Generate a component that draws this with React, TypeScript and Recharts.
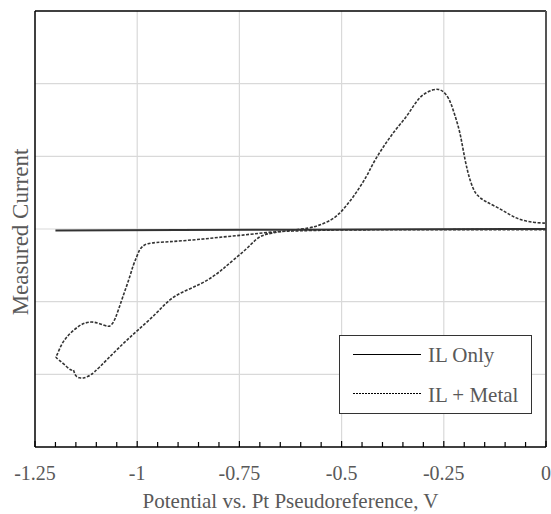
import React from "react";
import {
  LineChart,
  Line,
  XAxis,
  YAxis,
  ReferenceLine,
  Legend,
} from "recharts";

// ---- Data ----
const ilOnlyPotential = [-1.2, -0.9, -0.6, -0.3, 0];
const ilOnlyCurrent = [-0.02, -0.015, -0.009, -0.004, 0];

const metalPotential = [
  0, -0.1, -0.2, -0.3, -0.4, -0.5, -0.577, -0.62, -0.667, -0.716, -0.757, -0.8,
  -0.838, -0.88, -0.92, -0.955, -0.975, -0.986, -0.995, -1.001, -1.01, -1.018,
  -1.028, -1.038, -1.054, -1.064, -1.071, -1.083, -1.098, -1.111, -1.127, -1.14,
  -1.164, -1.185, -1.197, -1.201, -1.181, -1.16, -1.156, -1.152, -1.14, -1.132,
  -1.12, -1.107, -1.075, -1.034, -1.001, -0.952, -0.92, -0.879, -0.845, -0.814,
  -0.79, -0.765, -0.732, -0.708, -0.69, -0.675, -0.634, -0.577, -0.553, -0.525,
  -0.504, -0.488, -0.471, -0.455, -0.439, -0.427, -0.414, -0.398, -0.382,
  -0.362, -0.341, -0.325, -0.308, -0.292, -0.276, -0.262, -0.251, -0.237,
  -0.227, -0.218, -0.21, -0.204, -0.198, -0.192, -0.186, -0.178, -0.17, -0.15,
  -0.121, -0.09, -0.064, -0.03, 0,
];
const metalCurrent = [
  -0.008, -0.008, -0.009, -0.01, -0.011, -0.012, -0.02, -0.028, -0.037, -0.069,
  -0.092, -0.115, -0.138, -0.158, -0.175, -0.185, -0.2, -0.23, -0.29, -0.381,
  -0.5, -0.656, -0.82, -0.977, -1.252, -1.33, -1.344, -1.321, -1.29, -1.276,
  -1.29, -1.321, -1.431, -1.569, -1.757, -1.761, -1.848, -1.964, -1.913,
  -2.032, -2.05, -2.054, -2.03, -1.986, -1.803, -1.573, -1.404, -1.16, -0.954,
  -0.839, -0.76, -0.656, -0.55, -0.426, -0.275, -0.128, -0.08, -0.059, -0.023,
  0.01, 0.055, 0.12, 0.216, 0.325, 0.444, 0.58, 0.72, 0.86, 0.99, 1.13, 1.26,
  1.41, 1.545, 1.69, 1.821, 1.88, 1.922, 1.925, 1.895, 1.8, 1.638, 1.48,
  1.317, 1.13, 0.95, 0.8, 0.674, 0.55, 0.468, 0.38, 0.307, 0.2, 0.124, 0.088,
  0.08,
];

const majorTicks = [-1.25, -1, -0.75, -0.5, -0.25, 0];
const majorTickLabels = ["-1.25", "-1", "-0.75", "-0.5", "-0.25", "0"];
const minorTicks = [
  -1.25, -1.2, -1.15, -1.1, -1.05, -1, -0.95, -0.9, -0.85, -0.8, -0.75, -0.7,
  -0.65, -0.6, -0.55, -0.5, -0.45, -0.4, -0.35, -0.3, -0.25, -0.2, -0.15, -0.1,
  -0.05, 0,
];
const yTicks = [-3, -2, -1, 0, 1, 2, 3];
const innerGridX = [-1, -0.75, -0.5, -0.25];
const innerGridY = [-2, -1, 0, 1, 2];

const seriesNames = ["IL Only", "IL + Metal"];

const ilOnlyData = ilOnlyPotential.map((x, i) => ({ x, y: ilOnlyCurrent[i] }));
const metalData = metalPotential.map((x, i) => ({ x, y: metalCurrent[i] }));

const FONT = "Liberation Serif, Times New Roman, DejaVu Serif, serif";
const TEXT = "#595959";
const LINE = "#333333";

const XTick = (props: any) => {
  const { x, y, payload } = props;
  const v = payload.value;
  const idx = majorTicks.findIndex((m) => Math.abs(m - v) < 1e-6);
  const major = idx >= 0;
  return (
    <g>
      <line x1={x} x2={x} y1={y} y2={y - (major ? 6 : 5)} stroke="#000" strokeWidth={1.2} />
      {major && (
        <text
          x={x}
          y={y + 33}
          textAnchor="middle"
          style={{ fontFamily: FONT, fontSize: 20, fill: TEXT }}
        >
          {majorTickLabels[idx]}
        </text>
      )}
    </g>
  );
};

const LegendBox = () => (
  <div
    style={{
      position: "relative",
      width: 193,
      height: 79,
      boxSizing: "border-box",
      border: "1.5px solid #333",
      background: "#fff",
    }}
  >
    <svg
      width={193}
      height={79}
      style={{ position: "absolute", left: -1.5, top: -1.5 }}
    >
      <line x1={14} x2={82} y1={19.5} y2={19.5} stroke="#000" strokeWidth={1.2} />
      <line
        x1={14}
        x2={82}
        y1={58.5}
        y2={58.5}
        stroke="#000"
        strokeWidth={1}
        strokeDasharray="2 1"
      />
      <text x={89} y={27} style={{ fontFamily: FONT, fontSize: 21, fill: TEXT }}>
        {seriesNames[0]}
      </text>
      <text x={89} y={67} style={{ fontFamily: FONT, fontSize: 21, fill: TEXT }}>
        {seriesNames[1]}
      </text>
    </svg>
  </div>
);

export default function App() {
  return (
    <div style={{ position: "absolute", left: 0, top: 0, background: "#fff", fontFamily: FONT }}>
      <LineChart
        width={551}
        height={514}
        margin={{ top: 11, right: 5, bottom: 0, left: 0 }}
        style={{ fontFamily: FONT }}
      >
        {innerGridY.map((v) => (
          <ReferenceLine key={"gy" + v} y={v} stroke="#d9d9d9" strokeWidth={1.2} />
        ))}
        {innerGridX.map((v) => (
          <ReferenceLine key={"gx" + v} x={v} stroke="#d9d9d9" strokeWidth={1.2} />
        ))}
        <XAxis
          dataKey="x"
          type="number"
          domain={[-1.25, 0]}
          ticks={minorTicks}
          interval={0}
          allowDataOverflow
          height={67}
          tickSize={0}
          tickMargin={0}
          tickLine={false}
          tick={<XTick />}
          axisLine={{ stroke: "#000", strokeWidth: 1.5 }}
          label={{
            value: "Potential vs. Pt Pseudoreference, V",
            position: "insideBottom",
            offset: 6,
            style: { fontFamily: FONT, fontSize: 21, fill: TEXT },
          }}
        />
        <YAxis
          dataKey="y"
          type="number"
          domain={[-3, 3]}
          ticks={yTicks}
          allowDataOverflow
          width={35}
          tick={false}
          tickLine={false}
          axisLine={{ stroke: "#000", strokeWidth: 1.5 }}
          label={{
            value: "Measured Current",
            angle: -90,
            position: "center",
            dx: 2,
            dy: 3,
            style: { fontFamily: FONT, fontSize: 23, fill: TEXT },
          }}
        />
        <ReferenceLine y={3} stroke="#000" strokeWidth={1.5} />
        <ReferenceLine x={0} stroke="#555" strokeWidth={2} />
        <Line
          data={ilOnlyData}
          dataKey="y"
          name={seriesNames[0]}
          type="linear"
          stroke={LINE}
          strokeWidth={2}
          dot={false}
          isAnimationActive={false}
        />
        <Line
          data={metalData}
          dataKey="y"
          name={seriesNames[1]}
          type="basis"
          stroke={LINE}
          strokeWidth={1.6}
          strokeDasharray="3 1.5"
          dot={false}
          isAnimationActive={false}
        />
        <Legend
          layout="vertical"
          align="center"
          verticalAlign="middle"
          content={<LegendBox />}
          wrapperStyle={{ position: "absolute", left: 339, top: 335, width: 193, height: 79 }}
        />
      </LineChart>
    </div>
  );
}
